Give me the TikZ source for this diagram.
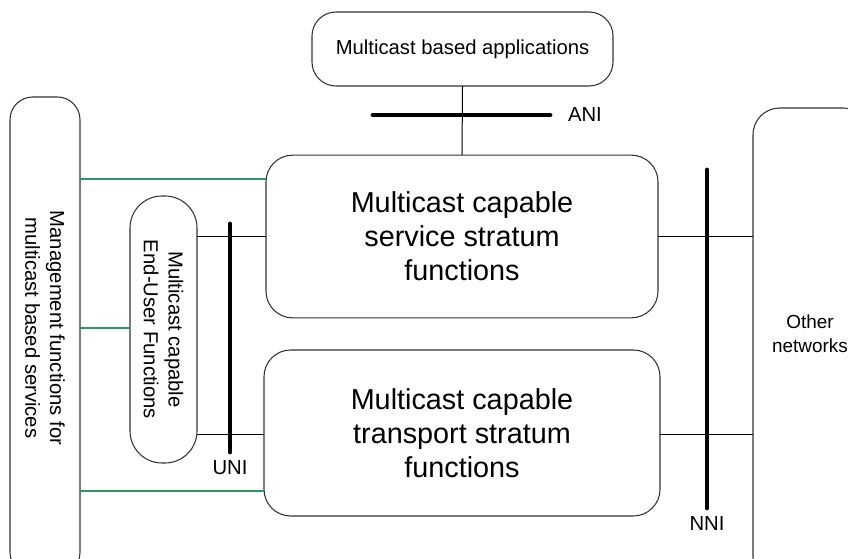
\documentclass[tikz,border=0pt]{standalone}
\usepackage{fontspec}
\setmainfont{Liberation Sans}
\usetikzlibrary{calc, positioning}

\definecolor{mgmtgreen}{RGB}{46,150,98}

\begin{document}
\begin{tikzpicture}[
    x=0.75pt, y=-0.75pt,
    line cap=round,
    box/.style={draw=black!80, line width=0.8pt, inner sep=0pt, align=center},
    smalltxt/.style={font=\fontsize{15.2}{18.5}\selectfont},
    bigtxt/.style={font=\fontsize{21.6}{25.5}\selectfont},
    link/.style={line width=0.75pt},
    mlink/.style={draw=mgmtgreen, line width=1.5pt},
    refpt/.style={line width=3.6pt}
]
    \useasboundingbox (0,0) rectangle (848,559);

    % Boxes
    \node[box, smalltxt, rounded corners=18pt, minimum width=225.75pt, minimum height=55.5pt] (apps) at (462.5,49) {Multicast based applications};

    \node[box, bigtxt, rounded corners=20pt, minimum width=294pt, minimum height=122pt] (service) at (462,236.5) {Multicast capable\\service stratum\\functions};

    \node[box, bigtxt, rounded corners=20pt, minimum width=297pt, minimum height=124.5pt] (transport) at (462,433) {Multicast capable\\transport stratum\\functions};

    \node[box, rounded corners=17pt, minimum width=52.5pt, minimum height=358.5pt] (mgmt) at (45,336) {};
    \node[smalltxt, rotate=-90, align=center] (mgmtlabel) at (45,328) {Management functions for\\multicast based services};

    % rotated clockwise: north is the right side, south the left side
    \node[box, smalltxt, rotate=-90, rounded corners=24pt, minimum width=200.25pt, minimum height=50.25pt] (enduser) at (163.5,329.5) {Multicast capable\\End-User Functions};

    \node[box, rounded corners=20pt, minimum width=87.75pt, minimum height=357pt] (other) at (811.5,346) {};
    \node[font=\fontsize{14.2}{18}\selectfont, align=center] (otherlabel) at (810,334) {Other\\networks};

    % Reference points
    \coordinate (anil) at (373,115);
    \coordinate (anir) at (550,115);
    \draw[refpt] (anil) -- (anir);
    \node[smalltxt, right=10pt of anir] (ani) {ANI};

    \coordinate (unit) at (230,224);
    \coordinate (unib) at (230,452);
    \draw[refpt] (unit) -- (unib);
    \node[smalltxt, below=3pt of unib] (uni) {UNI};

    \coordinate (nnit) at (707,170);
    \coordinate (nnib) at (707,508);
    \draw[refpt] (nnit) -- (nnib);
    \node[smalltxt, below=3pt of nnib] (nni) {NNI};

    % Connections
    \draw[link] (apps.south) -- (service.north);
    \draw[link] (enduser.north |- 0,237) -- (service.west |- 0,237);
    \draw[link] (enduser.north |- 0,434) -- (transport.west |- 0,434);
    \draw[link] (service.east |- 0,237) -- (other.west |- 0,237);
    \draw[link] (transport.east |- 0,434) -- (other.west |- 0,434);

    % Management links
    \draw[mlink] (mgmt.east |- 0,179) -- (service.west |- 0,179);
    \draw[mlink] (mgmt.east |- 0,328) -- (enduser.south |- 0,328);
    \draw[mlink] (mgmt.east |- 0,491) -- (transport.west |- 0,491);

\end{tikzpicture}
\end{document}
